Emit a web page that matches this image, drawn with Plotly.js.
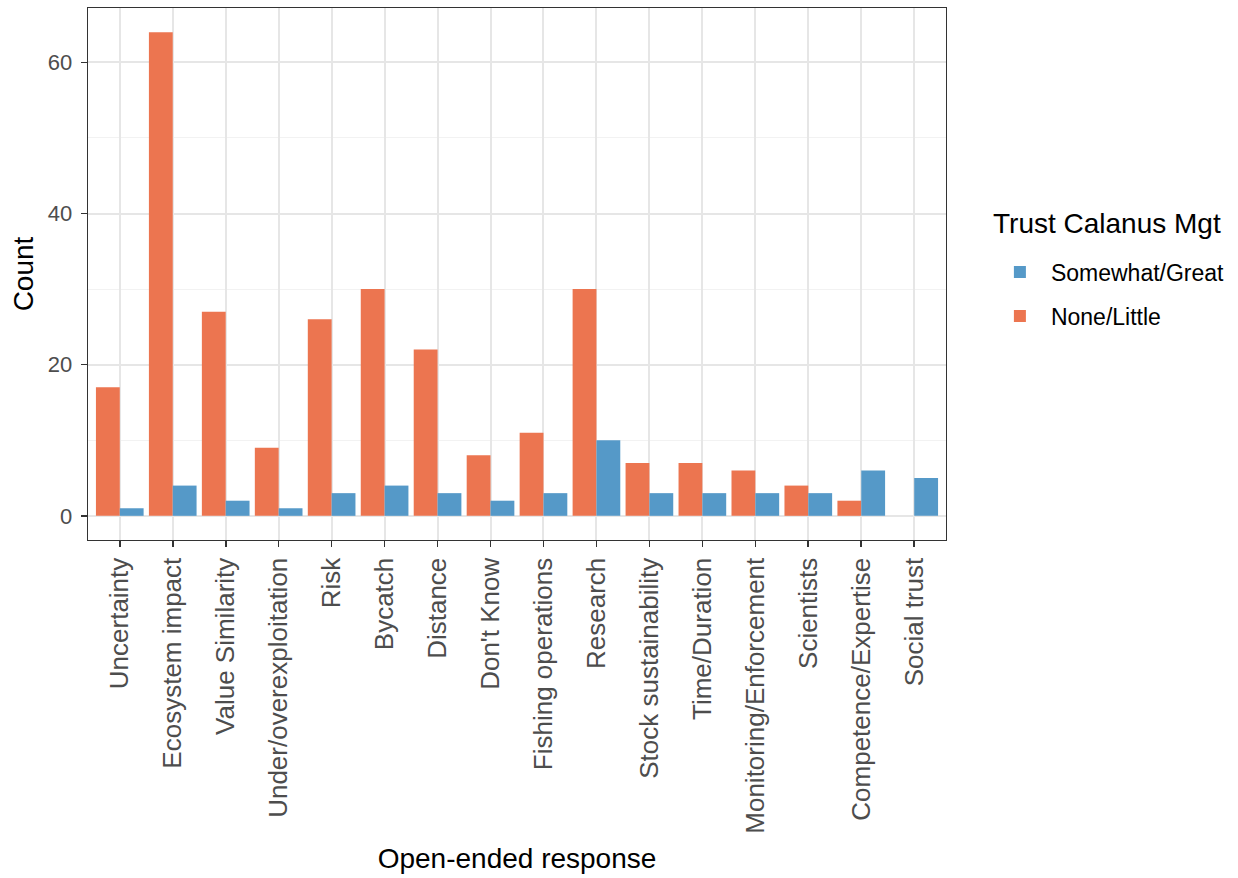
<!DOCTYPE html>
<html>
<head>
<meta charset="utf-8">
<script src="https://cdn.plot.ly/plotly-3.0.1.min.js"></script>
<style>
  html, body { margin: 0; padding: 0; background: #ffffff; }
  #chart { width: 1238px; height: 878px; }
</style>
</head>
<body>
<div id="chart"></div>
<script>
const categories = [
  "Uncertainty", "Ecosystem impact", "Value Similarity", "Under/overexploitation",
  "Risk", "Bycatch", "Distance", "Don't Know", "Fishing operations", "Research",
  "Stock sustainability", "Time/Duration", "Monitoring/Enforcement", "Scientists",
  "Competence/Expertise", "Social trust"
];
const noneLittle = [17, 64, 27, 9, 26, 30, 22, 8, 11, 30, 7, 7, 6, 4, 2, null];
const somewhatGreat = [1, 4, 2, 1, 3, 4, 3, 2, 3, 10, 3, 3, 3, 3, 6, 5];
const seriesNames = ["None/Little", "Somewhat/Great"];
const legendTitle = "Trust Calanus Mgt";
const yTicks = [0, 20, 40, 60];

const FONT = "Liberation Sans, Arial, Helvetica, sans-serif";

const traces = [
  {
    type: "bar", name: seriesNames[0], x: categories, y: noneLittle,
    marker: { color: "#EC7550" }, legendgroup: "a", legendrank: 2, hoverinfo: "x+y"
  },
  {
    type: "bar", name: seriesNames[1], x: categories, y: somewhatGreat,
    marker: { color: "#5599C8" }, legendgroup: "b", legendrank: 1, hoverinfo: "x+y"
  }
];

const layout = {
  width: 1238, height: 878,
  margin: { l: 88, r: 292, t: 8, b: 338 },
  paper_bgcolor: "#ffffff", plot_bgcolor: "#ffffff",
  font: { family: FONT, color: "#000000" },
  barmode: "group", bargap: 0.1, bargroupgap: 0,
  showlegend: true,
  legend: {
    x: 1.05, xanchor: "left", y: 0.544, yanchor: "top",
    traceorder: "grouped", tracegroupgap: 11, itemwidth: 52,
    font: { size: 23, family: FONT, color: "#000" },
    bgcolor: "rgba(0,0,0,0)"
  },
  annotations: [{
    text: legendTitle, xref: "paper", yref: "paper",
    x: 1.052, xanchor: "left", y: 0.562, yanchor: "bottom",
    showarrow: false, font: { size: 28, family: FONT, color: "#000" }
  }],
  xaxis: {
    type: "category", range: [-0.6, 15.6],
    tickangle: -90,
    tickfont: { size: 26, family: FONT, color: "#4D4D4D" },
    ticks: "outside", ticklen: 6, tickwidth: 1.6, tickcolor: "#333333",
    showgrid: true, gridcolor: "#E6E6E6", gridwidth: 2,
    showline: true, mirror: true, linecolor: "#333333", linewidth: 1.3,
    zeroline: false, automargin: false,
    title: { text: "Open-ended response", font: { size: 28, family: FONT, color: "#000" }, standoff: 15 }
  },
  yaxis: {
    range: [-3.2, 67.2],
    tickvals: yTicks, ticktext: yTicks.map(String),
    tickfont: { size: 22, family: FONT, color: "#4D4D4D" },
    ticks: "outside", ticklen: 6, tickwidth: 1.6, tickcolor: "#333333",
    ticklabelstandoff: 4,
    showgrid: true, gridcolor: "#E6E6E6", gridwidth: 2,
    minor: { tickvals: [10, 30, 50], showgrid: true, gridcolor: "#F2F2F2", gridwidth: 1, ticks: "" },
    showline: true, mirror: true, linecolor: "#333333", linewidth: 1.3,
    zeroline: false, automargin: false,
    title: { text: "Count", font: { size: 28, family: FONT, color: "#000" }, standoff: 6 }
  }
};

Plotly.newPlot("chart", traces, layout, { displayModeBar: false, staticPlot: true });
</script>
</body>
</html>
